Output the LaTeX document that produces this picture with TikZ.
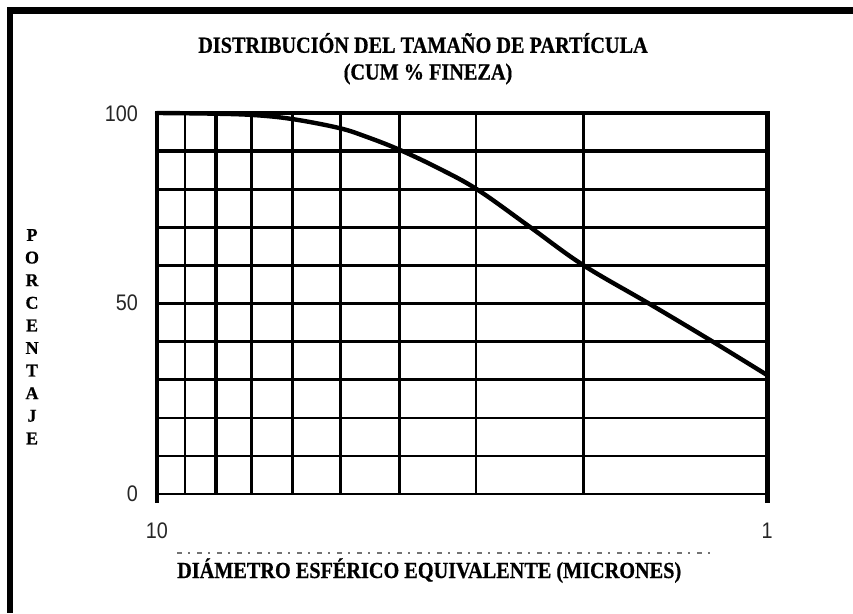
\documentclass[tikz,border=0pt]{standalone}
\usepackage{fontspec}
\setmainfont{Liberation Serif}[BoldFeatures={FakeBold=0.6}]
\newfontfamily\condserif[FakeStretch=0.88,BoldFeatures={FakeBold=0.6}]{Liberation Serif}
\newfontfamily\numfont[FakeStretch=0.88]{Liberation Sans}
\begin{document}
\begin{tikzpicture}[x=1pt,y=-1pt,
  gridline/.style={line width=2.6pt,black},
  gridthick/.style={line width=4pt,black},
  frameline/.style={line width=6.5pt,black},
  curveline/.style={line width=4.4pt,black,line join=round,line cap=round},
  ticklabel/.style={font=\numfont\fontsize{22.5}{22}\selectfont,text=black!85,inner sep=0pt},
  titletext/.style={font=\condserif\bfseries\fontsize{23}{26}\selectfont,inner sep=0pt},
  axistitle/.style={font=\condserif\bfseries\fontsize{23}{26}\selectfont,inner sep=0pt,anchor=base west},
  vletter/.style={font=\bfseries\fontsize{18}{20}\selectfont,inner sep=0pt}]
\useasboundingbox (0,0) rectangle (853,613);
\fill[white] (0,0) rectangle (853,613);
% frame (top and left only)
\coordinate (ftl) at (10,10.5);
\coordinate (ftr) at (853,10.5);
\coordinate (fbl) at (10,613);
\draw[frameline] (7,10.5) -- (ftr);
\draw[frameline] (10,7) -- (fbl);
% horizontal grid lines
\foreach \p in {0,10,...,100}{
  \pgfmathsetmacro{\yy}{494-3.81*\p}
  \ifnum\p>80
    \draw[gridthick] (157,\yy) -- (767,\yy);
  \else
    \draw[gridline] (157,\yy) -- (767,\yy);
  \fi
}
% vertical grid lines (log scale 10 -> 1)
\foreach \d in {9,7,6,5,4,3,2}{
  \pgfmathsetmacro{\xx}{157+610*(1-ln(\d)/ln(10))}
  \draw[gridline] (\xx,113) -- (\xx,494);
}
\pgfmathsetmacro{\xeight}{157+610*(1-ln(8)/ln(10))}
\draw[line width=4.5pt] (\xeight,113) -- (\xeight,494);
\draw[line width=3.2pt] (157,111) -- (157,503);
\draw[line width=5pt] (767,111) -- (767,503);
% curve
\draw[curveline] plot[smooth,tension=0.6] coordinates {
  (157,113) (210,113.6) (253,115) (292,119) (339,128) (367,137) (400,150)
  (440,169) (478,190) (530,227) (583,265) (648,303) (710,340) (767,375)};
% tick labels
\node[ticklabel,anchor=east] (l100) at (138,114) {100};
\node[ticklabel,anchor=east] (l50) at (138,303) {50};
\node[ticklabel,anchor=east] (l0) at (138,494) {0};
\node[ticklabel] (l10) at (157,531) {10};
\node[ticklabel] (l1) at (767,531) {1};
% titles
\node[titletext] (t1) at (423,43) {DISTRIBUCIÓN DEL TAMAÑO DE PARTÍCULA};
\node[titletext] (t2) at (428,74) {(CUM \% FINEZA)};
\draw[line width=1.5pt,black!55,dash pattern=on 5pt off 6pt on 2pt off 7pt] (177,553) -- (713,553);
\node[axistitle] (xt) at (177,578) {DIÁMETRO ESFÉRICO EQUIVALENTE (MICRONES)};
% vertical letters
\foreach \c [count=\i from 0] in {P,O,R,C,E,N,T,A,J,E}{
  \node[vletter] (v\i) at (32,235+22.6*\i) {\c};
}
\end{tikzpicture}
\end{document}
